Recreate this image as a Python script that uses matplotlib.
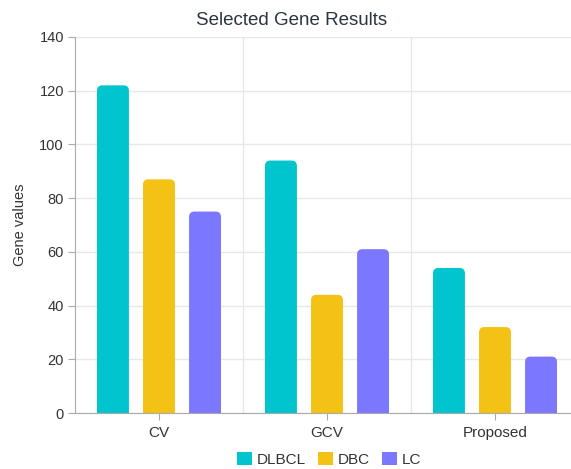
import matplotlib.pyplot as plt
import numpy as np
from matplotlib.patches import FancyBboxPatch, Patch

plt.rcParams['font.family'] = ['Liberation Sans', 'DejaVu Sans']

categories = ['CV', 'GCV', 'Proposed']
series = ['DLBCL', 'DBC', 'LC']
dlbcl = [122, 94, 54]
dbc = [87, 44, 32]
lc = [75, 61, 21]
colors = ['#00C5CE', '#F4C214', '#7B78FF']

fig = plt.figure(figsize=(5.71, 4.69), dpi=100)
ax = fig.add_axes([75 / 571, 56 / 469, 504 / 571, 376 / 469])

x = np.arange(len(categories))
step = 0.274
width = 0.19
r = 0.032         # corner radius in x units
aspect = 62       # y units per x unit (approx, for round corners)

for i, (vals, col) in enumerate(zip([dlbcl, dbc, lc], colors)):
    bars = ax.bar(x + (i - 1) * step, vals, width, color=col)
    for b in bars:
        b.set_visible(False)
        bx, by, bw, bh = b.get_x(), b.get_y(), b.get_width(), b.get_height()
        p = FancyBboxPatch((bx, by - 5), bw, bh + 5,
                           boxstyle=f"round,pad=0,rounding_size={r}",
                           mutation_aspect=aspect, facecolor=col,
                           edgecolor='none', zorder=2)
        ax.add_patch(p)

ax.set_xlim(-0.5, 2.5)
ax.set_ylim(0, 140)
ax.set_yticks(np.arange(0, 141, 20))
ax.set_xticks(x)
ax.set_xticklabels(categories)
ax.set_xticks([0.5, 1.5], minor=True)
ax.grid(axis='y', color='#e8e8e8', lw=1, zorder=0)
ax.grid(axis='x', which='minor', color='#e8e8e8', lw=1, zorder=0)
ax.tick_params(axis='x', which='minor', length=0)
ax.tick_params(axis='both', which='major', colors='#333333',
               length=5, color='#aaaaaa')
ax.tick_params(axis='y', labelsize=10.5, pad=3)
ax.tick_params(axis='x', labelsize=11, pad=4)
for s in ['top', 'right']:
    ax.spines[s].set_visible(False)
for s in ['left', 'bottom']:
    ax.spines[s].set_color('#aaaaaa')
ax.set_axisbelow(True)

ax.set_ylabel('Gene values', fontsize=10.5, color='#333333', labelpad=9)
fig.text(0.51, 0.957, 'Selected Gene Results', ha='center', va='center',
         fontsize=13.5, color='#2b3440')

handles = [Patch(facecolor=c, edgecolor='none', label=s) for c, s in zip(colors, series)]
fig.legend(handles=handles, loc='center', bbox_to_anchor=(0.576, 0.021), ncol=3,
           frameon=False, fontsize=11, handlelength=1.0, handleheight=1.0,
           handletextpad=0.3, columnspacing=0.8, labelcolor='#333333')

plt.savefig('out.png', dpi=100)
